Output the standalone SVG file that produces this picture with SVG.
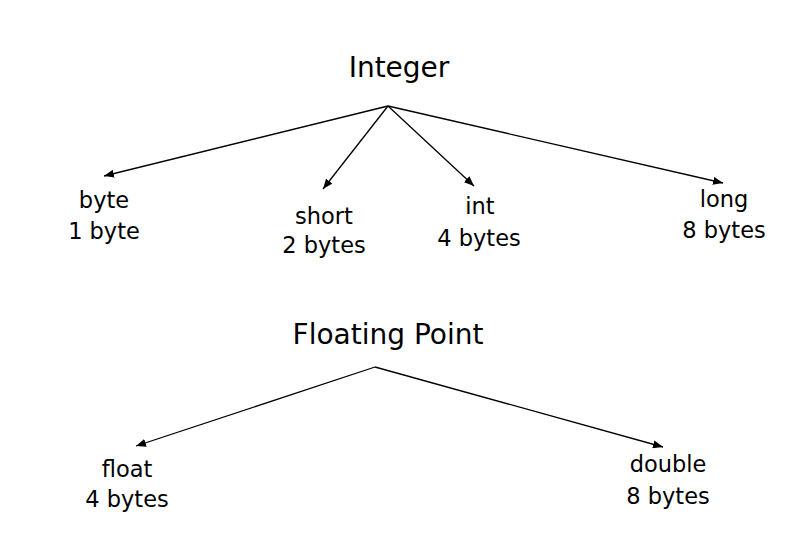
<svg xmlns="http://www.w3.org/2000/svg" width="808" height="554" viewBox="0 0 808 554">
<style>
text{font-family:"DejaVu Sans","Liberation Sans",sans-serif;fill:#000;text-anchor:middle}
.title{font-size:28px}
.lbl{font-size:22.5px}
.edge{stroke:#000;stroke-width:1.3;fill:none;marker-end:url(#ah)}
</style>
<defs>
<marker id="ah" markerUnits="userSpaceOnUse" viewBox="0 0 10 8" refX="10" refY="4" markerWidth="10" markerHeight="8" orient="auto">
<path d="M0,0 L10,4 L0,8 Z" fill="#000"/>
</marker>
</defs>
<rect width="808" height="554" fill="#fff"/>
<g id="connectors">
<line class="edge" x1="388" y1="106" x2="104" y2="176"/>
<line class="edge" x1="388" y1="106" x2="323" y2="189"/>
<line class="edge" x1="388" y1="106" x2="474" y2="186"/>
<line class="edge" x1="388" y1="106" x2="723" y2="183"/>
<line class="edge" x1="375" y1="367" x2="136" y2="446"/>
<line class="edge" x1="375" y1="367" x2="663" y2="447"/>
</g>
<g id="integer"><text class="title" x="399" y="77">Integer</text></g>
<g id="byte"><text class="lbl" x="104" y="208">byte</text><text class="lbl" x="104" y="239">1 byte</text></g>
<g id="short"><text class="lbl" x="324" y="224">short</text><text class="lbl" x="324" y="253">2 bytes</text></g>
<g id="int"><text class="lbl" x="480" y="214">int</text><text class="lbl" x="479" y="246">4 bytes</text></g>
<g id="long"><text class="lbl" x="724" y="207">long</text><text class="lbl" x="724" y="238">8 bytes</text></g>
<g id="floating-point"><text class="title" x="388" y="344">Floating Point</text></g>
<g id="float"><text class="lbl" x="127" y="477">float</text><text class="lbl" x="127" y="507">4 bytes</text></g>
<g id="double"><text class="lbl" x="668" y="472">double</text><text class="lbl" x="668" y="504">8 bytes</text></g>
</svg>
